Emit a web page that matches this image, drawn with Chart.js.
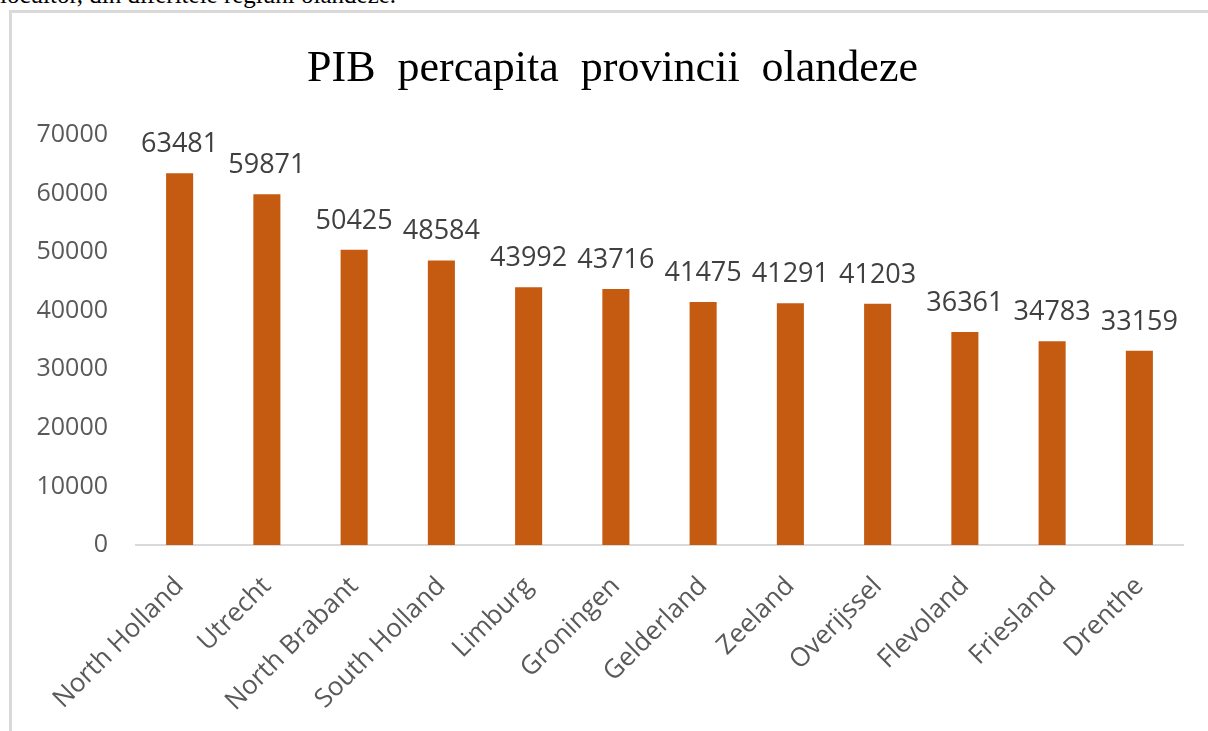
<!DOCTYPE html>
<html>
<head>
<meta charset="utf-8">
<script src="https://cdn.jsdelivr.net/npm/chart.js@4/dist/chart.umd.min.js"></script>
<style>
  html, body { margin: 0; padding: 0; background: #fff; overflow: hidden; }
  #page { position: relative; width: 1208px; height: 731px; }
  #above {
    position: absolute; left: 0; top: -17px;
    font: 25px/24px "Liberation Serif", serif; color: #000; white-space: nowrap;
  }
  #box {
    position: absolute; left: 9px; top: 10px; width: 1300px; height: 800px;
    border: 3px solid #d9d9d9; box-sizing: border-box; background: #fff;
  }
  #chart { position: absolute; left: 0; top: 0; }
</style>
</head>
<body>
<div id="page">
  <div id="above">locuitor, din diferitele regiuni olandeze.</div>
  <div id="box"></div>
  <canvas id="chart" width="1208" height="731"></canvas>
</div>
<script>
const provinces = ['North Holland', 'Utrecht', 'North Brabant', 'South Holland', 'Limburg', 'Groningen',
  'Gelderland', 'Zeeland', 'Overijssel', 'Flevoland', 'Friesland', 'Drenthe'];
const gdpPerCapita = [63481, 59871, 50425, 48584, 43992, 43716, 41475, 41291, 41203, 36361, 34783, 33159];
const yMax = 70000;
const yStep = 10000;
const titleText = 'PIB  percapita  provincii  olandeze';

// title drawn centred on the outer box rather than the canvas
const boxTitle = {
    id: 'boxTitle',
    afterDraw(chart) {
        const ctx = chart.ctx;
        ctx.save();
        ctx.font = '44px "Liberation Serif", serif';
        ctx.fillStyle = '#000';
        ctx.textAlign = 'center';
        ctx.textBaseline = 'alphabetic';
        ctx.fillText(titleText, 612.5, 81);
        ctx.restore();
    }
};

// value labels above each bar
const barLabels = {
    id: 'barLabels',
    afterDatasetsDraw(chart) {
        const ctx = chart.ctx;
        const meta = chart.getDatasetMeta(0);
        ctx.save();
        ctx.font = '27px "Open Sans", sans-serif';
        ctx.fillStyle = '#404040';
        ctx.textAlign = 'center';
        ctx.textBaseline = 'alphabetic';
        meta.data.forEach((bar, i) => {
            ctx.fillText(String(gdpPerCapita[i]), bar.x, bar.y - 21);
        });
        ctx.restore();
    }
};

const ctx = document.getElementById('chart').getContext('2d');
new Chart(ctx, {
    type: 'bar',
    data: {
        labels: provinces,
        datasets: [{
            data: gdpPerCapita,
            backgroundColor: '#C55A11',
            borderWidth: 0,
            barPercentage: 0.31,
            categoryPercentage: 1.0
        }]
    },
    options: {
        responsive: false,
        animation: false,
        layout: { padding: { left: 0, right: 25, top: 135, bottom: 0 } },
        plugins: {
            legend: { display: false },
            tooltip: { enabled: false },
            title: { display: false }
        },
        scales: {
            x: {
                grid: { display: false, drawTicks: false },
                border: { display: true, color: '#d9d9d9', width: 2 },
                ticks: {
                    color: '#595959',
                    font: { family: '"Open Sans", sans-serif', size: 26 },
                    minRotation: 45,
                    maxRotation: 45,
                    autoSkip: false,
                    padding: 26
                },
                afterFit(scale) { scale.height = 186; }
            },
            y: {
                min: 0,
                max: yMax,
                grid: { display: false, drawTicks: false },
                border: { display: false },
                ticks: {
                    stepSize: yStep,
                    color: '#595959',
                    font: { family: '"Open Sans", sans-serif', size: 25 },
                    padding: 28,
                    callback: v => String(v)
                },
                afterFit(scale) { scale.width = 136; }
            }
        }
    },
    plugins: [barLabels, boxTitle]
});
</script>
</body>
</html>
